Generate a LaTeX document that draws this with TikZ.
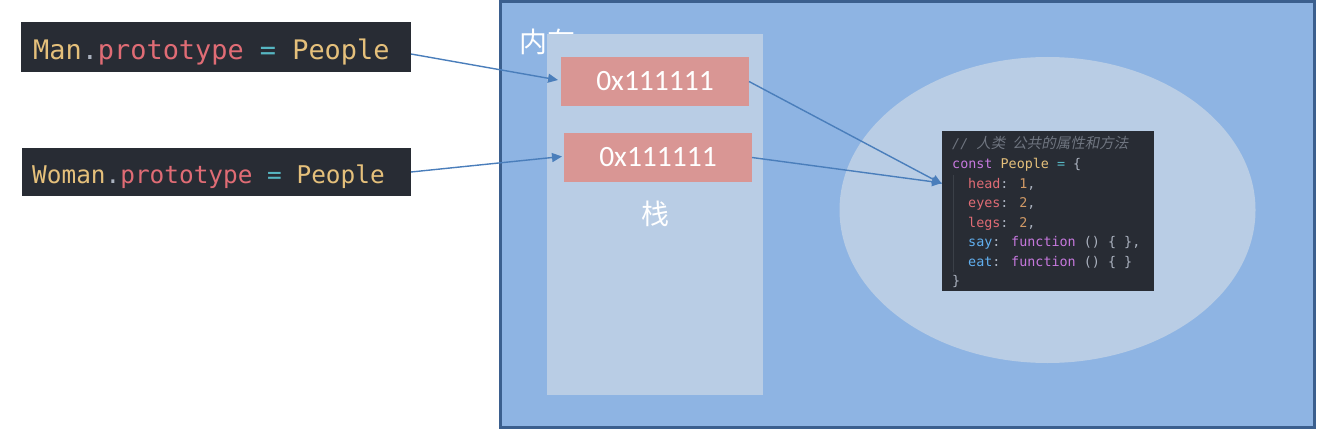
\documentclass[tikz,border=0pt]{standalone}
\usepackage{fontspec}
\setmainfont{Carlito}
\newfontfamily\cjk{Noto Sans CJK SC}
\newfontfamily\cjkit{Noto Sans CJK SC}[FakeSlant=0.2]
\newfontfamily\codefont{DejaVu Sans Mono}
\usetikzlibrary{arrows.meta,calc,shapes.geometric}
\definecolor{memfill}{HTML}{8EB4E3}
\definecolor{memline}{HTML}{3B5F8E}
\definecolor{stackfill}{HTML}{B9CDE5}
\definecolor{addrfill}{HTML}{D99694}
\definecolor{codebg}{HTML}{282C34}
\definecolor{arrowc}{HTML}{4A7EBB}
\definecolor{cyel}{HTML}{E5C07B}
\definecolor{cred}{HTML}{E06C75}
\definecolor{ccyan}{HTML}{56B6C2}
\definecolor{cgray}{HTML}{ABB2BF}
\definecolor{cpurp}{HTML}{C678DD}
\definecolor{cblue}{HTML}{61AFEF}
\definecolor{corng}{HTML}{D19A66}
\definecolor{ccomm}{HTML}{6F7580}
\definecolor{cguide}{HTML}{3B4048}
\tikzset{
  box/.style={inner sep=0pt,outer sep=0pt},
  addr/.style={box,fill=addrfill,minimum width=188pt,minimum height=49pt,text=white,font=\fontsize{29.5}{29.5}\selectfont},
  codeline/.style={anchor=base west,inner sep=0pt,font=\codefont\fontsize{13.4}{13.4}\selectfont},
  arr/.style={draw=arrowc,line width=1.4pt,-{Triangle[length=10pt,width=9pt]}},
  snippet/.style={box,fill=codebg,minimum height=49pt},
}
\begin{document}
\begin{tikzpicture}[x=1pt,y=-1pt]
\useasboundingbox (0,0) rectangle (1337,441);
\fill[white] (0,0) rectangle (1337,441);
% memory area
\node[box,fill=memfill,draw=memline,line width=3pt,minimum width=814pt,minimum height=425pt] (mem) at (907,214.5) {};
\node[anchor=west,inner sep=0pt,text=white,font=\cjk\fontsize{28}{28}\selectfont] (memlabel) at (519,42) {内存};
% stack
\node[box,fill=stackfill,minimum width=216pt,minimum height=361pt] (stack) at (655,214.5) {};
\node[addr] (b1) at (655,81.5) {0x111111};
\node[addr] (b2) at (658,157.5) {0x111111};
\node[inner sep=0pt,text=white,font=\cjk\fontsize{28}{28}\selectfont] (stacklabel) at (655,214) {栈};
% heap
\node[ellipse,inner sep=0pt,fill=stackfill,minimum width=416pt,minimum height=306pt] (heap) at (1047.5,210) {};
\node[box,fill=codebg,minimum width=212pt,minimum height=160pt] (code) at (1048,211) {};
\draw[cguide,line width=0.8pt] (953.5,175) -- (953.5,272);
\node[codeline,text=ccomm] (l0) at (952,148) {\itshape//\ \cjkit\fontsize{14.5}{14.5}\selectfont 人类\hspace{7pt}公共的属性和方法};
\node[codeline] (l1) at (952,168) {\color{cpurp}const \color{cyel}People \color{ccyan}= \color{cgray}\{};
\node[codeline] (l2) at (968,188) {\color{cred}head\color{cgray}: \color{corng}1\color{cgray},};
\node[codeline] (l3) at (968,207) {\color{cred}eyes\color{cgray}: \color{corng}2\color{cgray},};
\node[codeline] (l4) at (968,227) {\color{cred}legs\color{cgray}: \color{corng}2\color{cgray},};
\node[codeline] (l5) at (968,246) {\color{cblue}say\color{cgray}: \color{cpurp}function \color{cgray}() \{ \},};
\node[codeline] (l6) at (968,266) {\color{cblue}eat\color{cgray}: \color{cpurp}function \color{cgray}() \{ \}};
\node[codeline,text=cgray] (l7) at (952,285) {\}};
% left snippets
\node[snippet,minimum width=390pt,minimum height=50pt] (man) at (216,47) {};
\node[anchor=base west,inner sep=0pt,font=\codefont\fontsize{26.9}{26.9}\selectfont] (mantext) at (33,60)
  {\color{cyel}Man\color{cgray}.\color{cred}prototype \color{ccyan}= \color{cyel}People};
\node[snippet,minimum width=389pt,minimum height=48pt] (woman) at (216.5,172) {};
\node[anchor=base west,inner sep=0pt,font=\codefont\fontsize{24.4}{24.4}\selectfont] (womantext) at (32,183)
  {\color{cyel}Woman\color{cgray}.\color{cred}prototype \color{ccyan}= \color{cyel}People};
% arrows
\draw[arr] ($(man.east)+(0,7)$) -- ($(b1.west)+(-3,-1.5)$);
\draw[arr] (woman.east) -- ($(b2.west)+(-2,-1)$);
\draw[arr] (b1.east) -- ($(code.west)+(0,-27)$);
\draw[arr] (b2.east) -- ($(code.west)+(0,-28)$);
\end{tikzpicture}
\end{document}
